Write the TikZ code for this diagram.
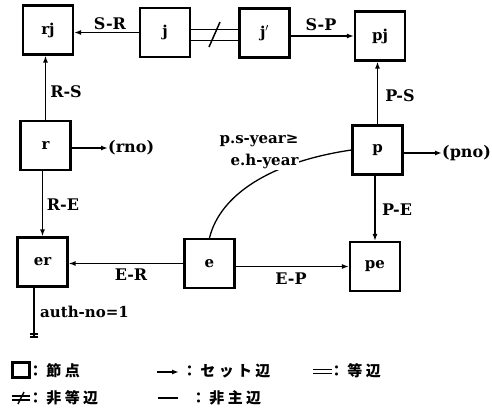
\documentclass[tikz,border=0pt]{standalone}
\usepackage{fontspec}
\setmainfont{DejaVu Serif}
\newfontfamily\jp[LetterSpace=22]{Noto Sans CJK JP}
\usetikzlibrary{arrows.meta,calc}
\begin{document}
\begin{tikzpicture}[x=1pt,y=-1pt,
  box/.style={draw,line width=2.2pt,minimum width=50pt,minimum height=49pt,inner sep=0pt,font=\fontsize{15}{18}\selectfont\bfseries},
  conn/.style={line width=1.5pt},
  arr/.style={conn,-{Latex[length=7pt,width=5pt]}},
  lbl/.style={font=\fontsize{16}{18}\selectfont\bfseries,inner sep=0pt},
  jtxt/.style={font=\fontsize{15}{17}\selectfont\jp\bfseries,anchor=west,inner sep=0pt}]
\useasboundingbox (0,0) rectangle (492,415);

% nodes
\node[box] (rj) at (48,30) {rj};
\node[box] (j)  at (165,32.5) {j};
\node[box] (jp) at (264.5,33) {j$'$};
\node[box] (pj) at (380,36) {pj};
\node[box] (r)  at (45.5,145.5) {r};
\node[box] (p)  at (377.5,150) {p};
\node[box] (er) at (42.5,262) {er};
\node[box] (e)  at (209.5,263.5) {e};
\node[box] (pe) at (375,266.5) {pe};

% top row
\draw[arr] (j.west) -- (rj.east |- j.west);
\node[lbl] (lSR) at (110,24) {S-R};
\draw[conn] ($(j.east)+(0,-3)$) -- ($(jp.west)+(0,-3.5)$);
\draw[conn] ($(j.east)+(0,8)$) -- ($(jp.west)+(0,7.5)$);
\draw[conn] (209,47) -- (220,22);
\draw[arr] (jp.east |- pj.west) -- (pj.west);
\node[lbl] (lSP) at (321,25) {S-P};

% verticals
\draw[arr] (r.north) -- (r.north |- rj.south);
\node[lbl] (lRS) at (66,92) {R-S};
\draw[arr] (p.north) -- (p.north |- pj.south);
\node[lbl] (lPS) at (400,96) {P-S};
\draw[arr] (er.north |- r.south) -- (er.north);
\node[lbl] (lRE) at (63,205) {R-E};
\draw[arr] (pe.north |- p.south) -- (pe.north);
\node[lbl] (lPE) at (397,210) {P-E};

% bottom row
\draw[arr] (e.west) -- (er.east |- e.west);
\node[lbl] (lER) at (131,275) {E-R};
\draw[arr] (e.east |- pe.west) -- (pe.west);
\node[lbl] (lEP) at (291,279) {E-P};

% attributes
\node[lbl,anchor=west] (rno) at (108,148) {(rno)};
\draw[arr] (r.east |- rno.west) -- (rno.west);
\node[lbl,anchor=west] (pno) at (442,153) {(pno)};
\draw[arr] (p.east |- pno.west) -- (pno.west);

% non-main edge
\draw[line width=1.3pt] (e.north) .. controls (220,195) and (270,162) .. (p.west);
\node[lbl,fill=white,align=right,inner sep=1pt,font=\fontsize{15}{22}\selectfont\bfseries] (cond) at (259,152) {p.s-year≥\\e.h-year};

% selection
\coordinate (g) at (34,337);
\draw[conn] (er.south -| g) -- (g);
\draw[conn] ($(g)+(-4,-3)$) -- ($(g)+(4,-3)$);
\draw[conn] ($(g)+(-4,0)$) -- ($(g)+(4,0)$);
\node[lbl,anchor=west,font=\fontsize{15}{18}\selectfont\bfseries] (auth) at (40,312) {auth-no=1};

% legend
\node[draw,line width=2.2pt,minimum width=17pt,minimum height=15pt,inner sep=0pt] (lbox) at (21,370) {};
\node[jtxt] (t1) at (28,371) {：節点};
\coordinate (la1) at (157,372);
\coordinate (la2) at (179,372);
\draw[arr] (la1) -- (la2);
\node[jtxt] (t2) at (182,371) {：セット辺};
\coordinate (le1) at (313,369.5);
\coordinate (le2) at (332,369.5);
\draw[conn] (le1) -- (le2);
\draw[conn] ($(le1)+(0,4)$) -- ($(le2)+(0,4)$);
\node[jtxt] (t3) at (329,371) {：等辺};

\coordinate (ln1) at (12,396);
\coordinate (ln2) at (30,396);
\draw[conn] (ln1) -- (ln2);
\draw[conn] ($(ln1)+(0,4)$) -- ($(ln2)+(0,4)$);
\draw[conn] (18,404) -- (24,392);
\node[jtxt] (t4) at (28,398) {：非等辺};
\coordinate (lm1) at (158,398);
\coordinate (lm2) at (178,398);
\draw[conn] (lm1) -- (lm2);
\node[jtxt] (t5) at (191,398) {：非主辺};
\end{tikzpicture}
\end{document}
